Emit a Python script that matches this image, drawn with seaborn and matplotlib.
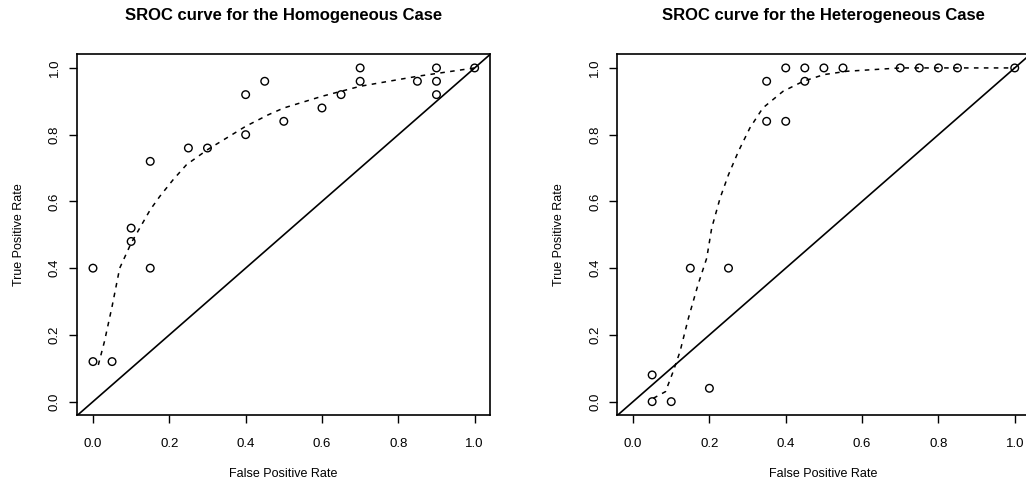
import matplotlib
matplotlib.use("Agg")
import matplotlib.pyplot as plt
import seaborn as sns
import pandas as pd

# ─── data ────────────────────────────────────────────────────────────────────
homo_fpr = [0.00, 0.00, 0.05, 0.10, 0.10, 0.15, 0.15, 0.25, 0.30, 0.40, 0.40,
            0.45, 0.50, 0.60, 0.65, 0.70, 0.70, 0.85, 0.90, 0.90, 0.90, 1.00]
homo_tpr = [0.40, 0.12, 0.12, 0.52, 0.48, 0.72, 0.40, 0.76, 0.76, 0.92, 0.80,
            0.96, 0.84, 0.88, 0.92, 1.00, 0.96, 0.96, 1.00, 0.96, 0.92, 1.00]

homo_curve_x = [0.014, 0.03, 0.05, 0.07, 0.10, 0.125, 0.15, 0.175, 0.21, 0.245,
                0.30, 0.35, 0.40, 0.46, 0.50, 0.60, 0.70, 0.85, 1.00]
homo_curve_y = [0.11, 0.18, 0.285, 0.40, 0.475, 0.525, 0.575, 0.615, 0.665, 0.71,
                0.755, 0.79, 0.825, 0.86, 0.88, 0.915, 0.945, 0.975, 1.00]

het_fpr = [0.05, 0.05, 0.10, 0.15, 0.20, 0.25, 0.35, 0.35, 0.40, 0.40,
           0.45, 0.45, 0.50, 0.55, 0.70, 0.75, 0.80, 0.85, 1.00]
het_tpr = [0.08, 0.00, 0.00, 0.40, 0.04, 0.40, 0.96, 0.84, 1.00, 0.84,
           1.00, 0.96, 1.00, 1.00, 1.00, 1.00, 1.00, 1.00, 1.00]

het_curve_x = [0.053, 0.085, 0.105, 0.123, 0.145, 0.17, 0.193, 0.206, 0.228, 0.25,
               0.276, 0.306, 0.34, 0.393, 0.446, 0.50, 0.56, 0.70, 1.00]
het_curve_y = [0.01, 0.03, 0.09, 0.15, 0.25, 0.35, 0.43, 0.52, 0.61, 0.68,
               0.75, 0.82, 0.88, 0.93, 0.96, 0.98, 0.99, 1.00, 1.00]

ticks = [0.0, 0.2, 0.4, 0.6, 0.8, 1.0]
tick_labels = ["0.0", "0.2", "0.4", "0.6", "0.8", "1.0"]

panels = [
    ("SROC curve for the Homogeneous Case", homo_fpr, homo_tpr, homo_curve_x, homo_curve_y),
    ("SROC curve for the Heterogeneous Case", het_fpr, het_tpr, het_curve_x, het_curve_y),
]

# ─── style ───────────────────────────────────────────────────────────────────
sns.set_style("ticks")
plt.rcParams['font.family'] = ['Liberation Sans', 'DejaVu Sans']
plt.rcParams['text.color'] = 'black'
plt.rcParams['axes.labelcolor'] = 'black'
plt.rcParams['xtick.color'] = 'black'
plt.rcParams['ytick.color'] = 'black'

fig = plt.figure(figsize=(10.26, 4.84), dpi=100)
positions = [[0.075, 0.1426, 0.4025, 0.746], [0.6014, 0.1426, 0.4025, 0.746]]

for pos, (title, fx, ty, cx, cy) in zip(positions, panels):
    ax = fig.add_axes(pos)
    pts = pd.DataFrame({'fpr': fx, 'tpr': ty})
    crv = pd.DataFrame({'x': cx, 'y': cy})

    # chance diagonal + fitted SROC curve + study points
    ax.axline((0, 0), slope=1, color='black', lw=1.2)
    sns.lineplot(data=crv, x='x', y='y', ax=ax, sort=False, color='black',
                 lw=1.1, linestyle=(0, (3, 3.5)))
    sns.scatterplot(data=pts, x='fpr', y='tpr', ax=ax, s=30, marker='o',
                    facecolor='none', edgecolor='black', linewidth=1.0)

    ax.set_xlim(-0.042, 1.04)
    ax.set_ylim(-0.04, 1.042)
    ax.set_xticks(ticks)
    ax.set_xticklabels(tick_labels, fontsize=9.5)
    ax.set_yticks(ticks)
    ax.set_yticklabels(tick_labels, fontsize=9.5, rotation=90, va='center')
    ax.tick_params(direction='out', length=6, width=1, colors='black')
    ax.tick_params(axis='x', pad=10.5)
    ax.tick_params(axis='y', pad=5.5)
    for s in ax.spines.values():
        s.set_visible(True)
        s.set_color('black')
        s.set_linewidth(1.2)
    ax.set_xlabel('False Positive Rate', fontsize=9, labelpad=13)
    ax.set_ylabel('True Positive Rate', fontsize=9, labelpad=17.5)
    ax.set_title(title, fontsize=12, fontweight='bold', pad=24.5)

fig.savefig('out.png', dpi=100)
